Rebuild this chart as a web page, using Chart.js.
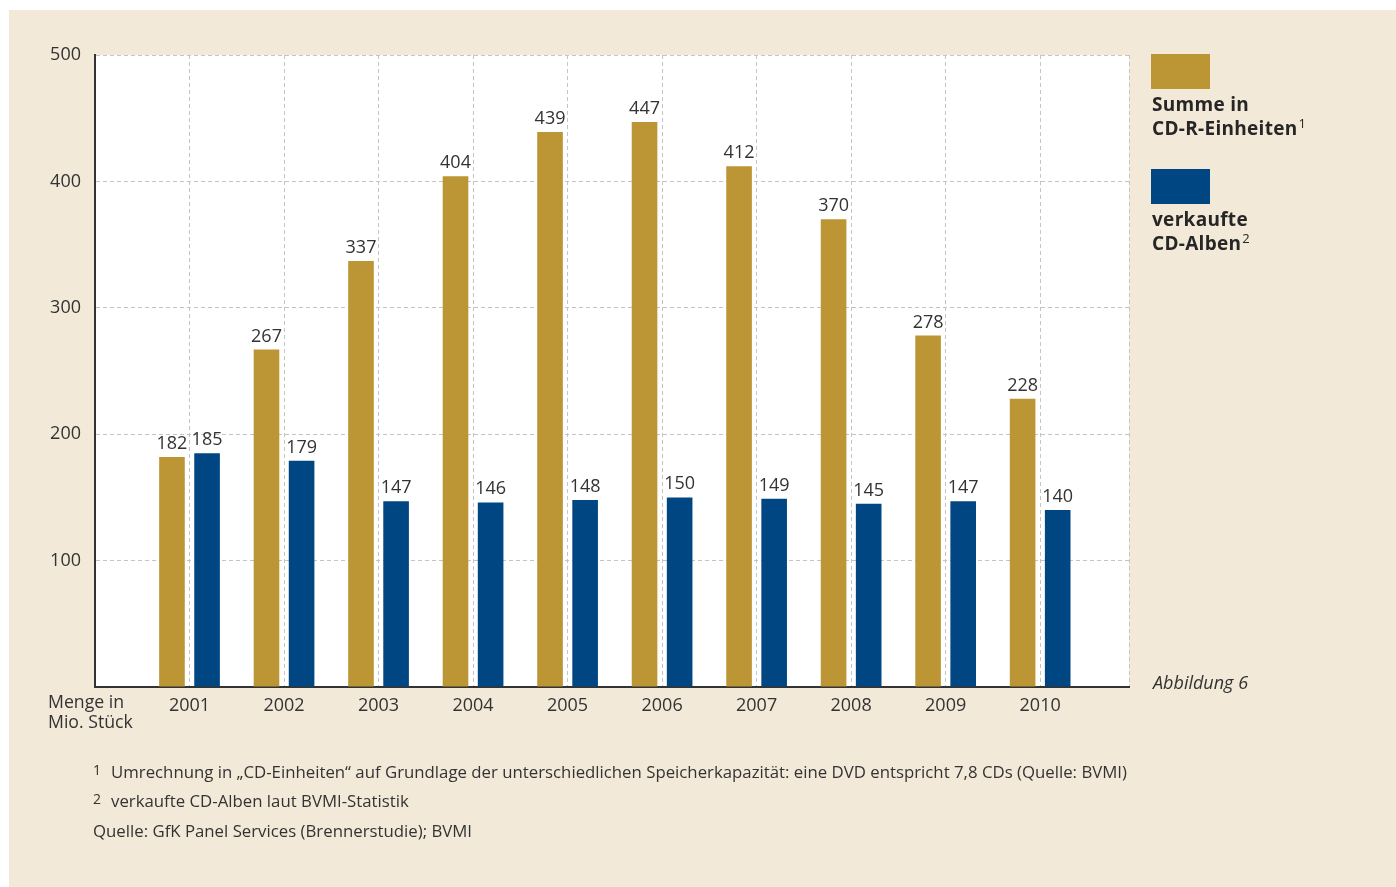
<!DOCTYPE html>
<html lang="de">
<head>
<meta charset="utf-8">
<title>CD-R-Einheiten und verkaufte CD-Alben 2001–2010</title>
<script src="https://cdn.jsdelivr.net/npm/chart.js@4.4.1/dist/chart.umd.min.js"></script>
<style>
  html, body { margin: 0; padding: 0; background: #ffffff; }
  body { width: 1396px; height: 887px; position: relative; overflow: hidden;
         font-family: "Open Sans", "Noto Sans", sans-serif; color: #2e2e2e; }
  #panel { position: absolute; left: 9px; top: 10px; width: 1387px; height: 877px; background: #f2e9d8; }
  #wrap { position: absolute; left: 0; top: 0; width: 1396px; height: 887px; }
  .legend-box { position: absolute; left: 1151px; width: 59px; height: 35px; }
  .legend-text { position: absolute; left: 1152px; font-weight: 700; font-size: 19px; letter-spacing: 0.3px; line-height: 24px; color: #262626; }
  .legend-text sup { font-weight: 400; font-size: 13px; vertical-align: 7px; line-height: 0; margin-left: 1px; letter-spacing: 0; }
  .note { position: absolute; font-size: 16.8px; color: #333; white-space: nowrap; }
  .note .n { display: inline-block; width: 18px; font-size: 14px; vertical-align: 3px; }
  #unit { position: absolute; left: 48px; top: 691px; font-size: 17.7px; line-height: 20px; color: #333; }
  #fig { position: absolute; left: 1153px; top: 670px; font-size: 18px; font-style: italic; color: #333; }
</style>
</head>
<body>
<div id="panel"></div>
<div id="wrap"><canvas id="chart" width="1396" height="887"></canvas></div>

<div class="legend-box" style="top:54px; background:#bc9535;"></div>
<div class="legend-text" style="top:92px;">Summe in<br>CD-R-Einheiten<sup>1</sup></div>
<div class="legend-box" style="top:169px; background:#004683;"></div>
<div class="legend-text" style="top:207px;">verkaufte<br>CD-Alben<sup>2</sup></div>

<div id="unit">Menge in<br>Mio. Stück</div>
<div id="fig">Abbildung 6</div>

<div class="note" style="left:93px; top:760px;"><span class="n">1</span>Umrechnung in „CD-Einheiten“ auf Grundlage der unterschiedlichen Speicherkapazität: eine DVD entspricht 7,8 CDs (Quelle: BVMI)</div>
<div class="note" style="left:93px; top:789px;"><span class="n">2</span>verkaufte CD-Alben laut BVMI-Statistik</div>
<div class="note" style="left:93px; top:819px;">Quelle: GfK Panel Services (Brennerstudie); BVMI</div>

<script>
// Jahre und Werte in Mio. Stück
const years = [2001, 2002, 2003, 2004, 2005, 2006, 2007, 2008, 2009, 2010];
const cdrUnits = [182, 267, 337, 404, 439, 447, 412, 370, 278, 228];
const cdAlbums = [185, 179, 147, 146, 148, 150, 149, 145, 147, 140];
const yTicks = [0, 100, 200, 300, 400, 500];

const GOLD = '#bc9535';
const BLUE = '#004683';
const TEXT = '#333333';
const FONT = '"Open Sans", "Noto Sans", sans-serif';

const xMin = 2000;
const xMax = 2010.94;

// weiße Zeichenfläche hinter den Balken
const plotBackground = {
  id: 'plotBackground',
  beforeDraw(chart) {
    const { ctx, chartArea: a } = chart;
    ctx.save();
    ctx.fillStyle = '#ffffff';
    ctx.fillRect(a.left, a.top, a.right - a.left, a.bottom - a.top);
    ctx.restore();
  }
};

// Zahlenwerte über den Balken
const valueLabels = {
  id: 'valueLabels',
  afterDatasetsDraw(chart) {
    const { ctx } = chart;
    ctx.save();
    ctx.font = '18px ' + FONT;
    ctx.fillStyle = TEXT;
    ctx.textAlign = 'center';
    ctx.textBaseline = 'alphabetic';
    chart.data.datasets.forEach((ds, di) => {
      chart.getDatasetMeta(di).data.forEach((bar, i) => {
        ctx.fillText(String(ds.data[i].y), bar.x, bar.y - 8);
      });
    });
    ctx.restore();
  }
};

new Chart(document.getElementById('chart'), {
  type: 'bar',
  data: {
    datasets: [
      {
        label: 'Summe in CD-R-Einheiten',
        data: years.map((yr, i) => ({ x: yr, y: cdrUnits[i] })),
        backgroundColor: GOLD
      },
      {
        label: 'verkaufte CD-Alben',
        data: years.map((yr, i) => ({ x: yr, y: cdAlbums[i] })),
        backgroundColor: BLUE
      }
    ]
  },
  options: {
    responsive: false,
    animation: false,
    devicePixelRatio: 1,
    layout: { padding: { top: 55, right: 267, left: 0, bottom: 0 } },
    datasets: {
      bar: { categoryPercentage: 0.79, barPercentage: 0.73, borderWidth: 0 }
    },
    plugins: {
      legend: { display: false },
      tooltip: { enabled: false }
    },
    scales: {
      x: {
        type: 'linear',
        offset: false,
        min: xMin,
        max: xMax,
        afterBuildTicks(scale) {
          scale.ticks = years.map(v => ({ value: v })).concat([{ value: xMax }]);
        },
        afterFit(scale) { scale.height = 200; },
        grid: { color: '#c4c4c4', lineWidth: 1, drawTicks: false, offset: false },
        border: { color: '#333333', width: 2, dash: [4, 3] },
        ticks: {
          autoSkip: false,
          maxRotation: 0,
          padding: 8,
          color: TEXT,
          font: { family: FONT, size: 18 },
          callback: (v) => (years.includes(v) ? String(v) : '')
        }
      },
      y: {
        min: 0,
        max: 500,
        afterBuildTicks(scale) {
          scale.ticks = yTicks.map(v => ({ value: v }));
        },
        afterFit(scale) { scale.width = 95; },
        grid: { color: '#c4c4c4', lineWidth: 1, drawTicks: false },
        border: { color: '#333333', width: 2, dash: [4, 3] },
        ticks: {
          padding: 14,
          color: TEXT,
          font: { family: FONT, size: 18 },
          callback: (v) => (v === 0 ? '' : String(v))
        }
      }
    }
  },
  plugins: [plotBackground, valueLabels]
});
</script>
</body>
</html>
